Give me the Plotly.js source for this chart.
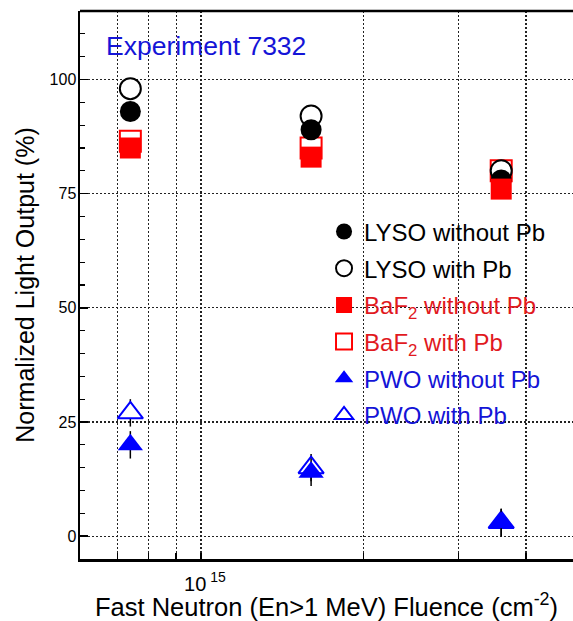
<!DOCTYPE html>
<html>
<head>
<meta charset="utf-8">
<script src="https://cdn.plot.ly/plotly-3.0.1.min.js"></script>
<style>
  html, body { margin: 0; padding: 0; background: #fff; overflow: hidden; }
  #chart { width: 573px; height: 621px; }
</style>
</head>
<body>
<div id="chart"></div>
<script>
// Fast neutron fluence (cm^-2) for the three irradiation steps
const fluence = [7.4e14, 1.6e15, 3.6e15];

// Normalized light output (%) per crystal, with and without lead shielding
const lysoWithout = [93, 89, 78];
const lysoWith    = [98, 92, 80];
const baf2Without = [85, 83, 76];
const baf2With    = [86.5, 85, 80];
const pwoWithout  = [20, 14, 3];
const pwoWith     = [27, 15, 3];

// Measurement uncertainties (%)
const lysoErr = [2, 2, 2];
const baf2Err = [2, 2, 2];
const pwoErr  = [3, 3, 3];

// Axis ticks
const xTickVals = [7e14, 8e14, 9e14, 1e15, 2e15, 3e15, 4e15];
const xTickText = [' ', ' ', ' ', '10<sup> 15</sup>', ' ', ' ', ' '];
const yTickVals = [0, 25, 50, 75, 100];

const RED = 'rgb(255,0,0)';
const BLUE = 'rgb(0,0,255)';
const RED_TXT = 'rgb(225,25,30)';
const BLUE_TXT = 'rgb(20,20,215)';

// Hollow symbols are drawn with a white body so they hide the error bar behind them
function series(name, y, err, symbol, color, rank, filled) {
  return {
    type: 'scatter',
    mode: 'markers',
    name: name,
    legendrank: rank,
    legendgroup: 'g' + rank,
    x: fluence,
    y: y,
    error_y: { type: 'data', array: err, visible: true, color: '#000', thickness: 1.5, width: 0 },
    marker: {
      symbol: symbol,
      size: symbol.startsWith('triangle') ? 22 : 21,
      color: filled ? color : '#fff',
      line: { color: color, width: filled ? 0 : 2 }
    },
    cliponaxis: false
  };
}

const traces = [
  series('<span style="color:' + RED_TXT + '">BaF<sub>2</sub> with Pb</span>', baf2With, baf2Err, 'square', RED, 4, false),
  series('LYSO with Pb', lysoWith, lysoErr, 'circle', '#000', 2, false),
  series('LYSO without Pb', lysoWithout, lysoErr, 'circle', '#000', 1, true),
  series('<span style="color:' + RED_TXT + '">BaF<sub>2</sub> without Pb</span>', baf2Without, baf2Err, 'square', RED, 3, true),
  series('<span style="color:' + BLUE_TXT + '">PWO with Pb</span>', pwoWith, pwoErr, 'triangle-up', BLUE, 6, false),
  series('<span style="color:' + BLUE_TXT + '">PWO without Pb</span>', pwoWithout, pwoErr, 'triangle-up', BLUE, 5, true)
];

const FONT = 'Arial, "Liberation Sans", sans-serif';

const layout = {
  width: 573,
  height: 621,
  margin: { l: 80, r: 0, t: 11, b: 62 },
  paper_bgcolor: '#fff',
  plot_bgcolor: '#fff',
  font: { family: FONT, color: '#000' },
  showlegend: true,
  legend: {
    x: 0.495, y: 0.638, xanchor: 'left', yanchor: 'top',
    bgcolor: 'rgba(0,0,0,0)',
    font: { family: FONT, size: 24, color: '#000' },
    tracegroupgap: 2.5,
    traceorder: 'grouped'
  },
  xaxis: {
    type: 'log',
    range: [Math.log10(5.97e14), Math.log10(4.89e15)],
    tickmode: 'array',
    tickvals: xTickVals,
    ticktext: xTickText,
    tickangle: 0,
    ticks: 'inside',
    ticklen: 6,
    tickwidth: 1.5,
    tickcolor: '#000',
    ticklabelstandoff: 5,
    ticklabelshift: 4,
    tickfont: { family: FONT, size: 20, color: '#000' },
    showgrid: true,
    gridcolor: '#222',
    griddash: '2px,2px',
    gridwidth: 1.2,
    showline: true,
    linecolor: '#000',
    linewidth: 2.5,
    zeroline: false,
    title: {
      text: 'Fast Neutron (En>1 MeV) Fluence (cm<sup>-2</sup>)',
      font: { family: FONT, size: 25.5, color: '#000' },
      standoff: 8
    }
  },
  yaxis: {
    range: [-5, 115],
    tickmode: 'array',
    tickvals: yTickVals,
    ticks: 'inside',
    ticklen: 8,
    tickwidth: 1.5,
    tickcolor: '#000',
    ticklabelstandoff: -2,
    tickfont: { family: FONT, size: 16, color: '#000' },
    minor: { dtick: 5, tick0: 0, ticks: 'inside', ticklen: 5, tickwidth: 1.2, tickcolor: '#000', showgrid: false },
    showgrid: true,
    gridcolor: '#222',
    griddash: '2px,2px',
    gridwidth: 1.2,
    showline: true,
    linecolor: '#000',
    linewidth: 2.5,
    zeroline: false,
    title: {
      text: 'Normalized Light Output (%)',
      font: { family: FONT, size: 25, color: '#000' },
      standoff: 8
    }
  },
  shapes: [
    { type: 'line', xref: 'paper', yref: 'paper', x0: 0, x1: 1, y0: 1, y1: 1,
      line: { color: '#000', width: 2.5 } }
  ],
  annotations: [
    { text: 'Experiment 7332', xref: 'paper', yref: 'paper', x: 0.048, y: 0.937,
      xanchor: 'left', yanchor: 'middle', showarrow: false,
      font: { family: FONT, size: 26.5, color: BLUE_TXT } }
  ]
};

Plotly.newPlot('chart', traces, layout, { displayModeBar: false, staticPlot: true });
</script>
</body>
</html>
